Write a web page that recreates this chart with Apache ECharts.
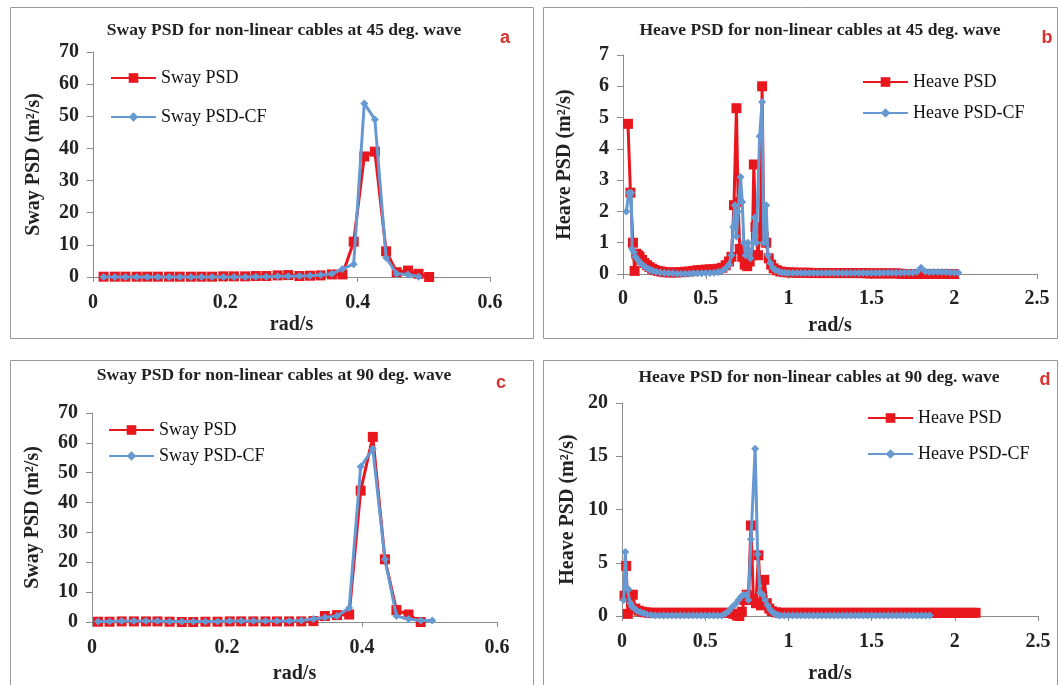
<!DOCTYPE html>
<html><head><meta charset="utf-8">
<script src="https://cdn.jsdelivr.net/npm/echarts/dist/echarts.min.js"></script>
<style>html,body{margin:0;padding:0;background:#fff}#c{width:1059px;height:685px}</style>
</head><body><div id="c"></div><script>
// ---------- text ----------
const panelTitles = ['Sway PSD for non-linear cables at 45 deg. wave','Heave PSD for non-linear cables at 45 deg. wave','Sway PSD for non-linear cables at 90 deg. wave','Heave PSD for non-linear cables at 90 deg. wave'];
const panelLetters = ['a','b','c','d'];
const yTitles = ['Sway PSD (m\u00B2/s)','Heave PSD (m\u00B2/s)','Sway PSD (m\u00B2/s)','Heave PSD (m\u00B2/s)'];
const xTitle = 'rad/s';
const seriesNames = [['Sway PSD','Sway PSD-CF'],['Heave PSD','Heave PSD-CF'],['Sway PSD','Sway PSD-CF'],['Heave PSD','Heave PSD-CF']];
// ---------- ticks ----------
const swayXTicks = [0,0.2,0.4,0.6];
const heaveXTicks = [0,0.5,1,1.5,2,2.5];
const swayYTicks = [0,10,20,30,40,50,60,70];
const heave45YTicks = [0,1,2,3,4,5,6,7];
const heave90YTicks = [0,5,10,15,20];
// ---------- panel a: sway 45 ----------
const freqA = [0.016,0.033,0.049,0.066,0.082,0.098,0.115,0.131,0.148,0.164,0.180,0.197,0.213,0.230,0.246,0.262,0.279,0.295,0.312,0.328,0.344,0.361,0.377,0.394,0.410,0.426,0.443,0.459,0.476,0.492,0.508];
const swayPsd45 = [0.1,0.1,0.1,0.1,0.1,0.1,0.1,0.1,0.1,0.1,0.1,0.2,0.2,0.2,0.3,0.3,0.5,0.6,0.3,0.4,0.5,0.8,0.8,11,37.5,39,8,1.5,2,1,0];
const swayCF45 = [0,0,0,0,0,0,0,0,0,0,0,0,0,0,0.1,0.1,0.2,0.2,0.3,0.4,0.6,1.0,2.5,4,54,49,6,1,0.8,0.1,null];
// ---------- panel c: sway 90 ----------
const freqC = [0.009,0.026,0.044,0.062,0.080,0.097,0.115,0.133,0.150,0.168,0.186,0.204,0.221,0.239,0.257,0.274,0.292,0.310,0.328,0.345,0.363,0.381,0.398,0.416,0.434,0.451,0.469,0.487,0.504];
const swayPsd90 = [0.1,0.1,0.2,0.2,0.2,0.2,0.1,0,0,0.1,0.1,0.2,0.2,0.2,0.2,0.2,0.2,0.2,0.3,2,2.3,2.5,44,62,21,4,2.5,0,null];
const swayCF90 = [0.2,0.2,0.3,0.3,0.3,0.3,0.2,0.2,0.2,0.2,0.2,0.3,0.3,0.3,0.3,0.3,0.3,0.5,1,1.5,2,4.7,52,58,21,2,1,0.5,0.5];
// ---------- panel b: heave 45 ([rad/s, PSD]) ----------
const heavePsd45 = [[0.03,4.8],[0.045,2.6],[0.06,1.0],[0.07,0.1],[0.08,0.65],[0.09,0.6],[0.10,0.55],[0.115,0.45],[0.13,0.35],[0.145,0.28],[0.16,0.22],[0.175,0.17],[0.19,0.13],[0.21,0.1],[0.23,0.08],[0.25,0.06],[0.275,0.05],[0.30,0.05],[0.325,0.05],[0.35,0.06],[0.375,0.07],[0.40,0.08],[0.425,0.1],[0.45,0.12],[0.475,0.13],[0.50,0.14],[0.525,0.15],[0.55,0.15],[0.575,0.17],[0.60,0.2],[0.62,0.28],[0.64,0.4],[0.655,0.55],[0.67,2.2],[0.685,5.3],[0.695,2.3],[0.705,0.8],[0.72,0.55],[0.735,0.3],[0.75,0.25],[0.765,0.4],[0.78,0.6],[0.79,3.5],[0.80,1.5],[0.815,0.6],[0.83,1.4],[0.84,6.0],[0.85,1.2],[0.865,1.0],[0.88,0.5],[0.895,0.3],[0.91,0.18],[0.93,0.12],[0.95,0.08],[0.975,0.06],[1.0,0.05],[1.025,0.05],[1.05,0.04],[1.075,0.04],[1.1,0.04],[1.125,0.04],[1.15,0.03],[1.175,0.03],[1.2,0.03],[1.225,0.03],[1.25,0.03],[1.275,0.03],[1.3,0.03],[1.325,0.03],[1.35,0.03],[1.375,0.03],[1.4,0.03],[1.425,0.03],[1.45,0.03],[1.475,0.02],[1.5,0.02],[1.525,0.02],[1.55,0.02],[1.575,0.02],[1.6,0.02],[1.625,0.02],[1.65,0.02],[1.675,0.01],[1.7,0],[1.725,0],[1.75,0],[1.775,0],[1.8,0],[1.825,0],[1.85,0],[1.875,0],[1.9,0],[1.925,0],[1.95,0],[1.975,0],[2.0,0]];
const heaveCF45 = [[0.02,2.0],[0.035,2.6],[0.05,2.6],[0.055,0.8],[0.065,0.7],[0.075,0.55],[0.09,0.45],[0.105,0.35],[0.12,0.28],[0.135,0.22],[0.15,0.17],[0.165,0.13],[0.18,0.1],[0.2,0.07],[0.225,0.05],[0.25,0.03],[0.275,0.02],[0.3,0.02],[0.325,0.01],[0.35,0.01],[0.375,0.01],[0.4,0.01],[0.425,0.02],[0.45,0.02],[0.475,0.02],[0.5,0.03],[0.525,0.03],[0.55,0.04],[0.575,0.06],[0.6,0.1],[0.62,0.18],[0.64,0.3],[0.655,0.6],[0.665,1.5],[0.675,2.2],[0.685,1.2],[0.695,2.0],[0.71,3.1],[0.72,2.3],[0.73,1.0],[0.74,0.6],[0.755,1.0],[0.77,0.5],[0.785,1.0],[0.795,1.8],[0.805,1.0],[0.825,4.4],[0.84,5.5],[0.85,1.0],[0.865,2.2],[0.875,0.6],[0.89,0.35],[0.905,0.2],[0.92,0.12],[0.94,0.08],[0.96,0.05],[0.98,0.04],[1.0,0.03],[1.025,0.03],[1.05,0.03],[1.075,0.03],[1.1,0.03],[1.125,0.03],[1.15,0.03],[1.175,0.03],[1.2,0.03],[1.225,0.03],[1.25,0.03],[1.275,0.03],[1.3,0.03],[1.325,0.03],[1.35,0.03],[1.375,0.03],[1.4,0.03],[1.425,0.03],[1.45,0.03],[1.475,0.03],[1.5,0.03],[1.525,0.03],[1.55,0.03],[1.575,0.04],[1.6,0.04],[1.625,0.04],[1.65,0.04],[1.675,0.04],[1.7,0.05],[1.725,0.05],[1.75,0.05],[1.775,0.07],[1.8,0.2],[1.825,0.08],[1.85,0.06],[1.875,0.06],[1.9,0.06],[1.925,0.06],[1.95,0.06],[1.975,0.05],[2.0,0.05],[2.025,0.04]];
// ---------- panel d: heave 90 ([rad/s, PSD]) ----------
const heavePsd90 = [[0.015,1.9],[0.025,4.7],[0.035,0.2],[0.05,1.9],[0.065,2.0],[0.08,0.7],[0.1,0.5],[0.12,0.4],[0.14,0.35],[0.16,0.3],[0.18,0.3],[0.2,0.3],[0.225,0.3],[0.25,0.3],[0.275,0.3],[0.3,0.3],[0.325,0.3],[0.35,0.3],[0.375,0.3],[0.4,0.3],[0.425,0.3],[0.45,0.3],[0.475,0.3],[0.5,0.3],[0.525,0.3],[0.55,0.3],[0.575,0.3],[0.6,0.3],[0.625,0.3],[0.65,0.3],[0.67,0.2],[0.69,0.05],[0.705,0],[0.72,0.4],[0.735,1.5],[0.75,2.0],[0.76,1.8],[0.775,8.5],[0.79,1.5],[0.805,1.2],[0.82,5.7],[0.835,1.0],[0.855,3.4],[0.87,1.2],[0.885,0.7],[0.9,0.45],[0.925,0.35],[0.95,0.3],[0.975,0.3],[1.0,0.3],[1.025,0.3],[1.05,0.3],[1.075,0.3],[1.1,0.3],[1.125,0.3],[1.15,0.3],[1.175,0.3],[1.2,0.3],[1.225,0.3],[1.25,0.3],[1.275,0.3],[1.3,0.3],[1.325,0.3],[1.35,0.3],[1.375,0.3],[1.4,0.3],[1.425,0.3],[1.45,0.3],[1.475,0.3],[1.5,0.3],[1.525,0.3],[1.55,0.3],[1.575,0.3],[1.6,0.3],[1.625,0.3],[1.65,0.3],[1.675,0.3],[1.7,0.3],[1.725,0.3],[1.75,0.3],[1.775,0.3],[1.8,0.3],[1.825,0.3],[1.85,0.3],[1.875,0.3],[1.9,0.3],[1.925,0.3],[1.95,0.3],[1.975,0.3],[2.0,0.3],[2.025,0.3],[2.05,0.3],[2.075,0.3],[2.1,0.3],[2.125,0.3]];
const heaveCF90 = [[0.01,1.5],[0.02,6.0],[0.03,2.6],[0.04,2.5],[0.05,1.2],[0.06,0.9],[0.075,0.7],[0.09,0.5],[0.11,0.35],[0.13,0.25],[0.15,0.15],[0.175,0.1],[0.2,0.05],[0.225,0.05],[0.25,0.05],[0.275,0.05],[0.3,0.05],[0.325,0.05],[0.35,0.05],[0.375,0.05],[0.4,0.05],[0.425,0.05],[0.45,0.05],[0.475,0.05],[0.5,0.05],[0.525,0.05],[0.55,0.05],[0.575,0.05],[0.6,0.05],[0.62,0.2],[0.64,0.45],[0.66,0.8],[0.68,1.1],[0.70,1.5],[0.715,1.8],[0.73,2.0],[0.745,2.0],[0.76,1.5],[0.775,7.2],[0.80,15.7],[0.815,5.8],[0.83,2.2],[0.845,2.0],[0.86,1.5],[0.875,1.0],[0.89,0.6],[0.905,0.35],[0.92,0.2],[0.935,0.1],[0.95,0.05],[0.975,0.05],[1.0,0.05],[1.025,0.05],[1.05,0.05],[1.075,0.05],[1.1,0.05],[1.125,0.05],[1.15,0.05],[1.175,0.05],[1.2,0.05],[1.225,0.05],[1.25,0.05],[1.275,0.05],[1.3,0.05],[1.325,0.05],[1.35,0.05],[1.375,0.05],[1.4,0.05],[1.425,0.05],[1.45,0.05],[1.475,0.05],[1.5,0.05],[1.525,0.05],[1.55,0.05],[1.575,0.05],[1.6,0.05],[1.625,0.05],[1.65,0.05],[1.675,0.05],[1.7,0.05],[1.725,0.05],[1.75,0.05],[1.775,0.05],[1.8,0.05],[1.825,0.05],[1.85,0.05]];

// ---------- build ----------
const RED = '#e8161d', BLUE = '#6699d2', AXIS = '#8c8c8c';
const SERIF = 'Liberation Serif';
const zip = (xs, ys) => xs.map((x, i) => [x, ys[i]]);

const grids = [
  {left: 93, top: 52, width: 397, height: 225},
  {left: 623, top: 55, width: 414, height: 219},
  {left: 92, top: 413, width: 405, height: 210},
  {left: 622, top: 403, width: 416, height: 214}
];
const xTicks = [swayXTicks, heaveXTicks, swayXTicks, heaveXTicks];
const yTicks = [swayYTicks, heave45YTicks, swayYTicks, heave90YTicks];
const xNameGap = [38, 42, 42, 48];
const xLabelMargin = [16, 15, 16, 16];
const yNameGap = [49, 48, 49, 44];
const panelData = [
  [zip(freqA, swayPsd45), zip(freqA, swayCF45)],
  [heavePsd45, heaveCF45],
  [zip(freqC, swayPsd90), zip(freqC, swayCF90)],
  [heavePsd90, heaveCF90]
];

const xAxes = [], yAxes = [], series = [], legends = [];
for (let i = 0; i < 4; i++) {
  const xt = xTicks[i], yt = yTicks[i];
  xAxes.push({
    gridIndex: i, type: 'value', min: xt[0], max: xt[xt.length - 1], interval: xt[1] - xt[0],
    axisLine: {show: true, onZero: false, lineStyle: {color: AXIS, width: 1}},
    axisTick: {show: true, length: 5, lineStyle: {color: AXIS}},
    splitLine: {show: false},
    axisLabel: {fontFamily: SERIF, fontWeight: 'bold', fontSize: 20, color: '#222', margin: xLabelMargin[i]},
    name: xTitle, nameLocation: 'middle', nameGap: xNameGap[i],
    nameTextStyle: {fontFamily: SERIF, fontWeight: 'bold', fontSize: 20, color: '#222'}
  });
  yAxes.push({
    gridIndex: i, type: 'value', min: yt[0], max: yt[yt.length - 1], interval: yt[1] - yt[0],
    axisLine: {show: true, onZero: false, lineStyle: {color: AXIS, width: 1}},
    axisTick: {show: true, length: 6, lineStyle: {color: AXIS}},
    splitLine: {show: false},
    axisLabel: {fontFamily: SERIF, fontWeight: 'bold', fontSize: 20, color: '#222', margin: 14},
    name: yTitles[i], nameLocation: 'middle', nameGap: yNameGap[i],
    nameTextStyle: {fontFamily: SERIF, fontWeight: 'bold', fontSize: 20, color: '#222'}
  });
  const [redData, blueData] = panelData[i];
  series.push({
    type: 'line', name: seriesNames[i][0], xAxisIndex: i, yAxisIndex: i, data: redData,
    symbol: 'rect', symbolSize: 10, showAllSymbol: true, clip: false,
    lineStyle: {color: RED, width: 3}, itemStyle: {color: RED}, z: 2, animation: false
  });
  series.push({
    type: 'line', name: seriesNames[i][1], xAxisIndex: i, yAxisIndex: i, data: blueData,
    symbol: 'diamond', symbolSize: 8, showAllSymbol: true, clip: false,
    lineStyle: {color: BLUE, width: 3}, itemStyle: {color: BLUE}, z: 3, animation: false
  });
}
const legendPos = [
  {left: 110, top: 69, gap: 21},
  {left: 862, top: 73, gap: 13},
  {left: 108, top: 421, gap: 8},
  {left: 867, top: 409, gap: 18}
];
for (let i = 0; i < 4; i++) {
  legends.push({
    data: seriesNames[i], orient: 'vertical', left: legendPos[i].left, top: legendPos[i].top,
    padding: 0, itemWidth: 45, itemHeight: 12, itemGap: legendPos[i].gap, selectedMode: false,
    textStyle: {fontFamily: SERIF, fontSize: 18, color: '#111'}
  });
}
const titlePos = [[284, 30], [820, 30], [274, 375], [819, 377]];
const letterPos = [[505, 38], [1047, 38], [501, 383], [1045, 380]];
const borders = [[10, 7, 523, 331], [543, 7, 514, 331], [10, 360, 523, 330], [543, 360, 514, 330]];
const graphics = [];
borders.forEach(b => graphics.push({type: 'rect', shape: {x: b[0] + 0.5, y: b[1] + 0.5, width: b[2], height: b[3]}, style: {fill: 'none', stroke: '#9a9a9a', lineWidth: 1}, silent: true, z: -1}));
panelTitles.forEach((t, i) => graphics.push({type: 'text', x: titlePos[i][0], y: titlePos[i][1], style: {text: t, fontFamily: SERIF, fontWeight: 'bold', fontSize: 17.5, fill: '#222', align: 'center', verticalAlign: 'middle'}}));
panelLetters.forEach((t, i) => graphics.push({type: 'text', x: letterPos[i][0], y: letterPos[i][1], style: {text: t, fontFamily: 'Liberation Sans', fontWeight: 'bold', fontSize: 18, fill: '#d9302c', align: 'center', verticalAlign: 'middle'}}));

const chart = echarts.init(document.getElementById('c'), null, {renderer: 'canvas'});
chart.setOption({
  backgroundColor: '#fff', animation: false,
  grid: grids, xAxis: xAxes, yAxis: yAxes, series: series, legend: legends, graphic: graphics
});
</script></body></html>
